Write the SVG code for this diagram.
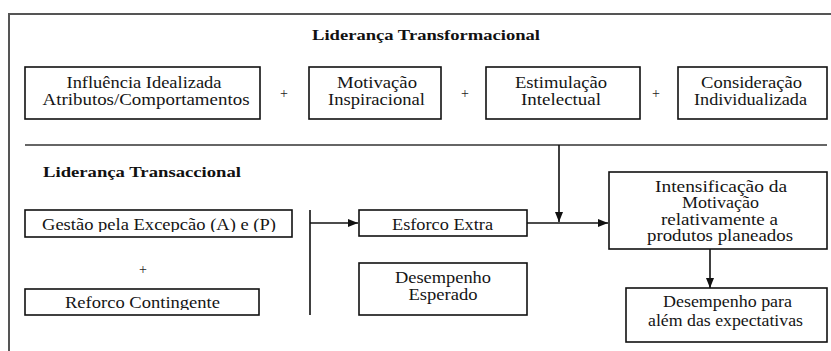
<svg xmlns="http://www.w3.org/2000/svg" width="831" height="351" viewBox="0 0 831 351">
<style>
.box{fill:#fff;stroke:#111;stroke-width:1.6}
.t{font-family:'Liberation Serif','DejaVu Serif',serif;font-size:16px;fill:#151515;text-anchor:middle}
.h{font-family:'Liberation Serif','DejaVu Serif',serif;font-size:15px;font-weight:bold;fill:#111}
.p{font-family:'Liberation Serif','DejaVu Serif',serif;font-size:14px;fill:#222;text-anchor:middle}
.c{stroke:#111;stroke-width:1.6;fill:none}
.fr{stroke:#555;stroke-width:2;fill:none}
</style>
<defs>
<marker id="ah" markerUnits="userSpaceOnUse" markerWidth="10" markerHeight="8" refX="10" refY="4" orient="auto">
<path d="M0,0 L10,4 L0,8 z" fill="#111"/>
</marker>
<clipPath id="cg"><rect x="25" y="205" width="270" height="27"/></clipPath>
<clipPath id="cr"><rect x="25" y="285" width="236" height="25"/></clipPath>
<clipPath id="ce"><rect x="358" y="205" width="170" height="27"/></clipPath>
</defs>
<rect width="831" height="351" fill="#fff"/>
<g id="frame">
<path class="fr" d="M9,351 V14 H831"/>
<path d="M25,145 H827" stroke="#333" stroke-width="1.6"/>
</g>
<text class="h" x="426" y="40" text-anchor="middle" textLength="228" lengthAdjust="spacingAndGlyphs">Liderança Transformacional</text>
<text class="h" x="43" y="177" textLength="198" lengthAdjust="spacingAndGlyphs">Liderança Transaccional</text>
<g id="n1"><rect class="box" x="25" y="67" width="235" height="52"/>
<text class="t" x="144" y="88" textLength="155" lengthAdjust="spacingAndGlyphs">Influência Idealizada</text>
<text class="t" x="146" y="105" textLength="207" lengthAdjust="spacingAndGlyphs">Atributos/Comportamentos</text></g>
<g id="n2"><rect class="box" x="309" y="67" width="132" height="52"/>
<text class="t" x="377" y="88" textLength="80" lengthAdjust="spacingAndGlyphs">Motivação</text>
<text class="t" x="376.5" y="105" textLength="97" lengthAdjust="spacingAndGlyphs">Inspiracional</text></g>
<g id="n3"><rect class="box" x="486" y="67" width="154" height="52"/>
<text class="t" x="561" y="88" textLength="92" lengthAdjust="spacingAndGlyphs">Estimulação</text>
<text class="t" x="561" y="105" textLength="80" lengthAdjust="spacingAndGlyphs">Intelectual</text></g>
<g id="n4"><rect class="box" x="678" y="67" width="149" height="52"/>
<text class="t" x="751.5" y="88" textLength="101" lengthAdjust="spacingAndGlyphs">Consideração</text>
<text class="t" x="750.5" y="105" textLength="113" lengthAdjust="spacingAndGlyphs">Individualizada</text></g>
<g id="plus">
<text class="p" x="284" y="98">+</text>
<text class="p" x="465" y="98">+</text>
<text class="p" x="656" y="98">+</text>
<text class="p" x="143" y="274">+</text>
</g>
<g id="n5"><rect class="box" x="25" y="210" width="267" height="27"/>
<text class="t" x="159" y="230" textLength="234" lengthAdjust="spacingAndGlyphs" clip-path="url(#cg)">Gestão pela Excepcão (A) e (P)</text></g>
<g id="n6"><rect class="box" x="25" y="289" width="234" height="26"/>
<text class="t" x="142.5" y="308" textLength="155" lengthAdjust="spacingAndGlyphs" clip-path="url(#cr)">Reforco Contingente</text></g>
<g id="n7"><rect class="box" x="359" y="210" width="168" height="26"/>
<text class="t" x="442.5" y="230" textLength="101" lengthAdjust="spacingAndGlyphs" clip-path="url(#ce)">Esforco Extra</text></g>
<g id="n8"><rect class="box" x="359" y="263" width="168" height="52"/>
<text class="t" x="443" y="283" textLength="96" lengthAdjust="spacingAndGlyphs">Desempenho</text>
<text class="t" x="443" y="300" textLength="69" lengthAdjust="spacingAndGlyphs">Esperado</text></g>
<g id="n9"><rect class="box" x="609" y="172" width="218" height="77"/>
<text class="t" x="721" y="192" textLength="132" lengthAdjust="spacingAndGlyphs">Intensificação da</text>
<text class="t" x="720.5" y="208" textLength="77" lengthAdjust="spacingAndGlyphs">Motivação</text>
<text class="t" x="719.5" y="225" textLength="117" lengthAdjust="spacingAndGlyphs">relativamente a</text>
<text class="t" x="720" y="241" textLength="146" lengthAdjust="spacingAndGlyphs">produtos planeados</text></g>
<g id="n10"><rect class="box" x="626" y="288" width="201" height="54"/>
<text class="t" x="727.5" y="307" textLength="129" lengthAdjust="spacingAndGlyphs">Desempenho para</text>
<text class="t" x="725.5" y="326" textLength="155" lengthAdjust="spacingAndGlyphs">além das expectativas</text></g>
<g id="connectors">
<path class="c" d="M310,210 V315" stroke-width="2"/>
<path class="c" d="M310,223 H358" marker-end="url(#ah)"/>
<path class="c" d="M527,223 H608" marker-end="url(#ah)"/>
<path class="c" d="M559,145 V222" marker-end="url(#ah)"/>
<path class="c" d="M710,249 V288" marker-end="url(#ah)"/>
</g>
</svg>
